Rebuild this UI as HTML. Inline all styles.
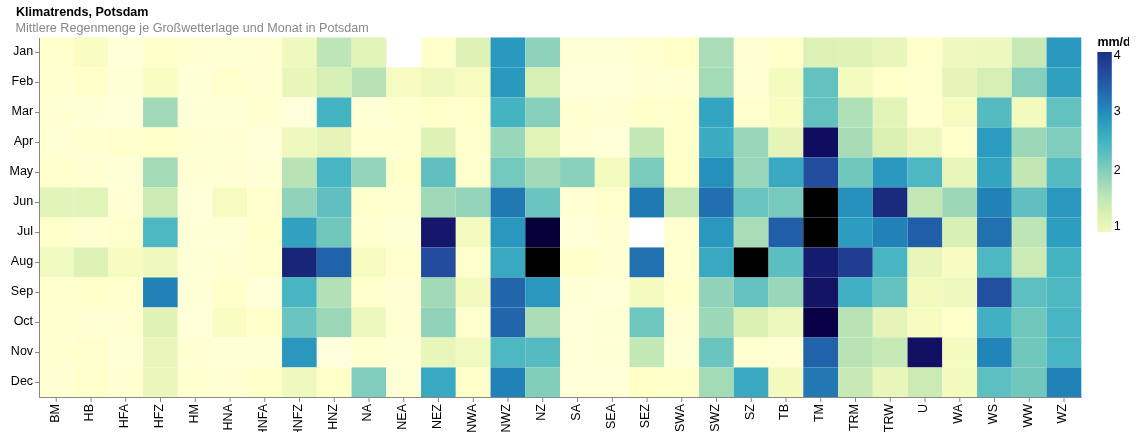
<!DOCTYPE html>
<html lang="de"><head><meta charset="utf-8"><title>Klimatrends, Potsdam</title>
<style>html,body{margin:0;padding:0;background:#fff;}body{width:1141px;height:442px;overflow:hidden;font-family:"Liberation Sans", sans-serif;}svg{display:block;}text{font-family:"Liberation Sans", sans-serif;}</style></head><body>
<svg width="1141" height="442" viewBox="0 0 1141 442">
<defs><linearGradient id="lg" x1="0" y1="1" x2="0" y2="0">
<stop offset="0.0" stop-color="#eff9bd"/>
<stop offset="0.1" stop-color="#dbf1b4"/>
<stop offset="0.2" stop-color="#bde5b5"/>
<stop offset="0.3" stop-color="#94d5b9"/>
<stop offset="0.4" stop-color="#69c5be"/>
<stop offset="0.5" stop-color="#45b4c2"/>
<stop offset="0.6" stop-color="#2c9ec0"/>
<stop offset="0.7" stop-color="#2182b8"/>
<stop offset="0.8" stop-color="#2163aa"/>
<stop offset="0.9" stop-color="#23479c"/>
<stop offset="1.0" stop-color="#1c3185"/>
</linearGradient><clipPath id="cp"><rect x="0" y="0" width="1141" height="432"/></clipPath></defs>
<text x="16" y="15.8" font-size="12.56" font-weight="bold" fill="#000">Klimatrends, Potsdam</text>
<text x="15.6" y="31.9" font-size="12.58" fill="#888">Mittlere Regenmenge je Großwetterlage und Monat in Potsdam</text>
<g>
<rect x="38.80" y="37.45" width="34.75" height="30.00" fill="#ffffcc"/>
<rect x="73.55" y="37.45" width="34.75" height="30.00" fill="#fafdc2"/>
<rect x="108.30" y="37.45" width="34.75" height="30.00" fill="#ffffd8"/>
<rect x="143.05" y="37.45" width="34.75" height="30.00" fill="#ffffc9"/>
<rect x="177.80" y="37.45" width="34.75" height="30.00" fill="#ffffd2"/>
<rect x="212.55" y="37.45" width="34.75" height="30.00" fill="#ffffd4"/>
<rect x="247.30" y="37.45" width="34.75" height="30.00" fill="#ffffd2"/>
<rect x="282.05" y="37.45" width="34.75" height="30.00" fill="#eff9bd"/>
<rect x="316.80" y="37.45" width="34.75" height="30.00" fill="#bde5b5"/>
<rect x="351.55" y="37.45" width="34.75" height="30.00" fill="#e2f4b7"/>
<rect x="421.05" y="37.45" width="34.75" height="30.00" fill="#ffffc9"/>
<rect x="455.80" y="37.45" width="34.75" height="30.00" fill="#def2b6"/>
<rect x="490.55" y="37.45" width="34.75" height="30.00" fill="#2a99bf"/>
<rect x="525.30" y="37.45" width="34.75" height="30.00" fill="#8dd2ba"/>
<rect x="560.05" y="37.45" width="34.75" height="30.00" fill="#ffffd5"/>
<rect x="594.80" y="37.45" width="34.75" height="30.00" fill="#ffffd5"/>
<rect x="629.55" y="37.45" width="34.75" height="30.00" fill="#ffffcf"/>
<rect x="664.30" y="37.45" width="34.75" height="30.00" fill="#ffffc6"/>
<rect x="699.05" y="37.45" width="34.75" height="30.00" fill="#a8ddb7"/>
<rect x="733.80" y="37.45" width="34.75" height="30.00" fill="#ffffd2"/>
<rect x="768.55" y="37.45" width="34.75" height="30.00" fill="#ffffc9"/>
<rect x="803.30" y="37.45" width="34.75" height="30.00" fill="#def2b6"/>
<rect x="838.05" y="37.45" width="34.75" height="30.00" fill="#e0f3b6"/>
<rect x="872.80" y="37.45" width="34.75" height="30.00" fill="#e8f6ba"/>
<rect x="907.55" y="37.45" width="34.75" height="30.00" fill="#ffffc9"/>
<rect x="942.30" y="37.45" width="34.75" height="30.00" fill="#eff9bd"/>
<rect x="977.05" y="37.45" width="34.75" height="30.00" fill="#ecf8bc"/>
<rect x="1011.80" y="37.45" width="34.75" height="30.00" fill="#c7e9b5"/>
<rect x="1046.55" y="37.45" width="34.75" height="30.00" fill="#2a99bf"/>
<rect x="38.80" y="67.45" width="34.75" height="30.00" fill="#ffffcf"/>
<rect x="73.55" y="67.45" width="34.75" height="30.00" fill="#ffffc9"/>
<rect x="108.30" y="67.45" width="34.75" height="30.00" fill="#ffffd5"/>
<rect x="143.05" y="67.45" width="34.75" height="30.00" fill="#f9fdc2"/>
<rect x="177.80" y="67.45" width="34.75" height="30.00" fill="#ffffd5"/>
<rect x="212.55" y="67.45" width="34.75" height="30.00" fill="#ffffcc"/>
<rect x="247.30" y="67.45" width="34.75" height="30.00" fill="#ffffd2"/>
<rect x="282.05" y="67.45" width="34.75" height="30.00" fill="#e8f6ba"/>
<rect x="316.80" y="67.45" width="34.75" height="30.00" fill="#d6efb4"/>
<rect x="351.55" y="67.45" width="34.75" height="30.00" fill="#b6e2b6"/>
<rect x="386.30" y="67.45" width="34.75" height="30.00" fill="#f6fcc0"/>
<rect x="421.05" y="67.45" width="34.75" height="30.00" fill="#eff9bd"/>
<rect x="455.80" y="67.45" width="34.75" height="30.00" fill="#f6fcc0"/>
<rect x="490.55" y="67.45" width="34.75" height="30.00" fill="#2a99bf"/>
<rect x="525.30" y="67.45" width="34.75" height="30.00" fill="#d6efb4"/>
<rect x="560.05" y="67.45" width="34.75" height="30.00" fill="#ffffd8"/>
<rect x="594.80" y="67.45" width="34.75" height="30.00" fill="#ffffd8"/>
<rect x="629.55" y="67.45" width="34.75" height="30.00" fill="#ffffd2"/>
<rect x="664.30" y="67.45" width="34.75" height="30.00" fill="#ffffd2"/>
<rect x="699.05" y="67.45" width="34.75" height="30.00" fill="#a4dbb7"/>
<rect x="733.80" y="67.45" width="34.75" height="30.00" fill="#ffffd2"/>
<rect x="768.55" y="67.45" width="34.75" height="30.00" fill="#f4fbbf"/>
<rect x="803.30" y="67.45" width="34.75" height="30.00" fill="#63c2bf"/>
<rect x="838.05" y="67.45" width="34.75" height="30.00" fill="#f4fbbf"/>
<rect x="872.80" y="67.45" width="34.75" height="30.00" fill="#ffffc9"/>
<rect x="907.55" y="67.45" width="34.75" height="30.00" fill="#ffffcc"/>
<rect x="942.30" y="67.45" width="34.75" height="30.00" fill="#e5f5b8"/>
<rect x="977.05" y="67.45" width="34.75" height="30.00" fill="#d6efb4"/>
<rect x="1011.80" y="67.45" width="34.75" height="30.00" fill="#86d0bb"/>
<rect x="1046.55" y="67.45" width="34.75" height="30.00" fill="#2fa0c0"/>
<rect x="38.80" y="97.45" width="34.75" height="30.00" fill="#ffffd2"/>
<rect x="73.55" y="97.45" width="34.75" height="30.00" fill="#ffffd5"/>
<rect x="108.30" y="97.45" width="34.75" height="30.00" fill="#ffffd8"/>
<rect x="143.05" y="97.45" width="34.75" height="30.00" fill="#a2dab8"/>
<rect x="177.80" y="97.45" width="34.75" height="30.00" fill="#ffffd5"/>
<rect x="212.55" y="97.45" width="34.75" height="30.00" fill="#ffffd6"/>
<rect x="247.30" y="97.45" width="34.75" height="30.00" fill="#ffffcf"/>
<rect x="282.05" y="97.45" width="34.75" height="30.00" fill="#ffffdb"/>
<rect x="316.80" y="97.45" width="34.75" height="30.00" fill="#45b4c2"/>
<rect x="351.55" y="97.45" width="34.75" height="30.00" fill="#ffffd5"/>
<rect x="386.30" y="97.45" width="34.75" height="30.00" fill="#ffffcf"/>
<rect x="421.05" y="97.45" width="34.75" height="30.00" fill="#ffffc9"/>
<rect x="455.80" y="97.45" width="34.75" height="30.00" fill="#ffffc9"/>
<rect x="490.55" y="97.45" width="34.75" height="30.00" fill="#45b4c2"/>
<rect x="525.30" y="97.45" width="34.75" height="30.00" fill="#86d0bb"/>
<rect x="560.05" y="97.45" width="34.75" height="30.00" fill="#ffffcf"/>
<rect x="594.80" y="97.45" width="34.75" height="30.00" fill="#ffffd2"/>
<rect x="629.55" y="97.45" width="34.75" height="30.00" fill="#ffffc9"/>
<rect x="664.30" y="97.45" width="34.75" height="30.00" fill="#ffffc9"/>
<rect x="699.05" y="97.45" width="34.75" height="30.00" fill="#33a4c1"/>
<rect x="733.80" y="97.45" width="34.75" height="30.00" fill="#ffffcc"/>
<rect x="768.55" y="97.45" width="34.75" height="30.00" fill="#f9fdc2"/>
<rect x="803.30" y="97.45" width="34.75" height="30.00" fill="#63c2bf"/>
<rect x="838.05" y="97.45" width="34.75" height="30.00" fill="#afe0b6"/>
<rect x="872.80" y="97.45" width="34.75" height="30.00" fill="#e2f4b7"/>
<rect x="907.55" y="97.45" width="34.75" height="30.00" fill="#ffffcf"/>
<rect x="942.30" y="97.45" width="34.75" height="30.00" fill="#f6fcc0"/>
<rect x="977.05" y="97.45" width="34.75" height="30.00" fill="#55bbc0"/>
<rect x="1011.80" y="97.45" width="34.75" height="30.00" fill="#f2fabe"/>
<rect x="1046.55" y="97.45" width="34.75" height="30.00" fill="#63c2bf"/>
<rect x="38.80" y="127.45" width="34.75" height="30.00" fill="#ffffd5"/>
<rect x="73.55" y="127.45" width="34.75" height="30.00" fill="#ffffcf"/>
<rect x="108.30" y="127.45" width="34.75" height="30.00" fill="#ffffcc"/>
<rect x="143.05" y="127.45" width="34.75" height="30.00" fill="#ffffc9"/>
<rect x="177.80" y="127.45" width="34.75" height="30.00" fill="#ffffd2"/>
<rect x="212.55" y="127.45" width="34.75" height="30.00" fill="#ffffd2"/>
<rect x="247.30" y="127.45" width="34.75" height="30.00" fill="#ffffd8"/>
<rect x="282.05" y="127.45" width="34.75" height="30.00" fill="#eff9bd"/>
<rect x="316.80" y="127.45" width="34.75" height="30.00" fill="#e5f5b8"/>
<rect x="351.55" y="127.45" width="34.75" height="30.00" fill="#ffffcf"/>
<rect x="386.30" y="127.45" width="34.75" height="30.00" fill="#ffffcf"/>
<rect x="421.05" y="127.45" width="34.75" height="30.00" fill="#def2b6"/>
<rect x="455.80" y="127.45" width="34.75" height="30.00" fill="#ffffcc"/>
<rect x="490.55" y="127.45" width="34.75" height="30.00" fill="#98d7b9"/>
<rect x="525.30" y="127.45" width="34.75" height="30.00" fill="#e2f4b7"/>
<rect x="560.05" y="127.45" width="34.75" height="30.00" fill="#ffffd2"/>
<rect x="594.80" y="127.45" width="34.75" height="30.00" fill="#ffffd8"/>
<rect x="629.55" y="127.45" width="34.75" height="30.00" fill="#c4e8b5"/>
<rect x="664.30" y="127.45" width="34.75" height="30.00" fill="#ffffc9"/>
<rect x="699.05" y="127.45" width="34.75" height="30.00" fill="#3babc1"/>
<rect x="733.80" y="127.45" width="34.75" height="30.00" fill="#98d7b9"/>
<rect x="768.55" y="127.45" width="34.75" height="30.00" fill="#e5f5b8"/>
<rect x="803.30" y="127.45" width="34.75" height="30.00" fill="#100c5f"/>
<rect x="838.05" y="127.45" width="34.75" height="30.00" fill="#a7dcb7"/>
<rect x="872.80" y="127.45" width="34.75" height="30.00" fill="#dbf1b4"/>
<rect x="907.55" y="127.45" width="34.75" height="30.00" fill="#eef8bc"/>
<rect x="942.30" y="127.45" width="34.75" height="30.00" fill="#ffffc9"/>
<rect x="977.05" y="127.45" width="34.75" height="30.00" fill="#2b9cbf"/>
<rect x="1011.80" y="127.45" width="34.75" height="30.00" fill="#9bd8b8"/>
<rect x="1046.55" y="127.45" width="34.75" height="30.00" fill="#7fcdbc"/>
<rect x="38.80" y="157.45" width="34.75" height="30.00" fill="#ffffcc"/>
<rect x="73.55" y="157.45" width="34.75" height="30.00" fill="#ffffd2"/>
<rect x="108.30" y="157.45" width="34.75" height="30.00" fill="#ffffd5"/>
<rect x="143.05" y="157.45" width="34.75" height="30.00" fill="#a4dbb7"/>
<rect x="177.80" y="157.45" width="34.75" height="30.00" fill="#ffffd2"/>
<rect x="212.55" y="157.45" width="34.75" height="30.00" fill="#ffffd2"/>
<rect x="247.30" y="157.45" width="34.75" height="30.00" fill="#ffffd5"/>
<rect x="282.05" y="157.45" width="34.75" height="30.00" fill="#b9e3b5"/>
<rect x="316.80" y="157.45" width="34.75" height="30.00" fill="#47b5c2"/>
<rect x="351.55" y="157.45" width="34.75" height="30.00" fill="#94d5b9"/>
<rect x="386.30" y="157.45" width="34.75" height="30.00" fill="#ffffc9"/>
<rect x="421.05" y="157.45" width="34.75" height="30.00" fill="#5fc0bf"/>
<rect x="455.80" y="157.45" width="34.75" height="30.00" fill="#ffffcc"/>
<rect x="490.55" y="157.45" width="34.75" height="30.00" fill="#73c9bd"/>
<rect x="525.30" y="157.45" width="34.75" height="30.00" fill="#a2dab8"/>
<rect x="560.05" y="157.45" width="34.75" height="30.00" fill="#89d1ba"/>
<rect x="594.80" y="157.45" width="34.75" height="30.00" fill="#f4fbbf"/>
<rect x="629.55" y="157.45" width="34.75" height="30.00" fill="#7acbbc"/>
<rect x="664.30" y="157.45" width="34.75" height="30.00" fill="#ffffc6"/>
<rect x="699.05" y="157.45" width="34.75" height="30.00" fill="#2690bc"/>
<rect x="733.80" y="157.45" width="34.75" height="30.00" fill="#98d7b9"/>
<rect x="768.55" y="157.45" width="34.75" height="30.00" fill="#39a9c1"/>
<rect x="803.30" y="157.45" width="34.75" height="30.00" fill="#234e9f"/>
<rect x="838.05" y="157.45" width="34.75" height="30.00" fill="#70c8bd"/>
<rect x="872.80" y="157.45" width="34.75" height="30.00" fill="#2997be"/>
<rect x="907.55" y="157.45" width="34.75" height="30.00" fill="#4db8c1"/>
<rect x="942.30" y="157.45" width="34.75" height="30.00" fill="#e8f6ba"/>
<rect x="977.05" y="157.45" width="34.75" height="30.00" fill="#34a5c1"/>
<rect x="1011.80" y="157.45" width="34.75" height="30.00" fill="#c2e7b5"/>
<rect x="1046.55" y="157.45" width="34.75" height="30.00" fill="#55bbc0"/>
<rect x="38.80" y="187.45" width="34.75" height="30.00" fill="#e2f4b7"/>
<rect x="73.55" y="187.45" width="34.75" height="30.00" fill="#e2f4b7"/>
<rect x="108.30" y="187.45" width="34.75" height="30.00" fill="#ffffd2"/>
<rect x="143.05" y="187.45" width="34.75" height="30.00" fill="#ccebb4"/>
<rect x="177.80" y="187.45" width="34.75" height="30.00" fill="#ffffd8"/>
<rect x="212.55" y="187.45" width="34.75" height="30.00" fill="#f6fcc0"/>
<rect x="247.30" y="187.45" width="34.75" height="30.00" fill="#ffffcc"/>
<rect x="282.05" y="187.45" width="34.75" height="30.00" fill="#90d3ba"/>
<rect x="316.80" y="187.45" width="34.75" height="30.00" fill="#5fc0bf"/>
<rect x="351.55" y="187.45" width="34.75" height="30.00" fill="#ffffcc"/>
<rect x="386.30" y="187.45" width="34.75" height="30.00" fill="#ffffcf"/>
<rect x="421.05" y="187.45" width="34.75" height="30.00" fill="#9fd9b8"/>
<rect x="455.80" y="187.45" width="34.75" height="30.00" fill="#94d5b9"/>
<rect x="490.55" y="187.45" width="34.75" height="30.00" fill="#2179b4"/>
<rect x="525.30" y="187.45" width="34.75" height="30.00" fill="#69c5be"/>
<rect x="560.05" y="187.45" width="34.75" height="30.00" fill="#ffffd2"/>
<rect x="594.80" y="187.45" width="34.75" height="30.00" fill="#ffffcc"/>
<rect x="629.55" y="187.45" width="34.75" height="30.00" fill="#2179b4"/>
<rect x="664.30" y="187.45" width="34.75" height="30.00" fill="#c4e8b5"/>
<rect x="699.05" y="187.45" width="34.75" height="30.00" fill="#216fb0"/>
<rect x="733.80" y="187.45" width="34.75" height="30.00" fill="#69c5be"/>
<rect x="768.55" y="187.45" width="34.75" height="30.00" fill="#77cabc"/>
<rect x="803.30" y="187.45" width="34.75" height="30.00" fill="#000000"/>
<rect x="838.05" y="187.45" width="34.75" height="30.00" fill="#2690bc"/>
<rect x="872.80" y="187.45" width="34.75" height="30.00" fill="#1a2a7d"/>
<rect x="907.55" y="187.45" width="34.75" height="30.00" fill="#c4e8b5"/>
<rect x="942.30" y="187.45" width="34.75" height="30.00" fill="#9bd8b8"/>
<rect x="977.05" y="187.45" width="34.75" height="30.00" fill="#2182b8"/>
<rect x="1011.80" y="187.45" width="34.75" height="30.00" fill="#5fc0bf"/>
<rect x="1046.55" y="187.45" width="34.75" height="30.00" fill="#2997be"/>
<rect x="38.80" y="217.45" width="34.75" height="30.00" fill="#ffffc9"/>
<rect x="73.55" y="217.45" width="34.75" height="30.00" fill="#ffffd2"/>
<rect x="108.30" y="217.45" width="34.75" height="30.00" fill="#ffffcc"/>
<rect x="143.05" y="217.45" width="34.75" height="30.00" fill="#4db8c1"/>
<rect x="177.80" y="217.45" width="34.75" height="30.00" fill="#ffffd5"/>
<rect x="212.55" y="217.45" width="34.75" height="30.00" fill="#ffffd5"/>
<rect x="247.30" y="217.45" width="34.75" height="30.00" fill="#ffffc9"/>
<rect x="282.05" y="217.45" width="34.75" height="30.00" fill="#30a2c0"/>
<rect x="316.80" y="217.45" width="34.75" height="30.00" fill="#70c8bd"/>
<rect x="351.55" y="217.45" width="34.75" height="30.00" fill="#ffffcf"/>
<rect x="386.30" y="217.45" width="34.75" height="30.00" fill="#ffffd5"/>
<rect x="421.05" y="217.45" width="34.75" height="30.00" fill="#14176a"/>
<rect x="455.80" y="217.45" width="34.75" height="30.00" fill="#f4fbbf"/>
<rect x="490.55" y="217.45" width="34.75" height="30.00" fill="#2997be"/>
<rect x="525.30" y="217.45" width="34.75" height="30.00" fill="#050038"/>
<rect x="560.05" y="217.45" width="34.75" height="30.00" fill="#ffffd8"/>
<rect x="594.80" y="217.45" width="34.75" height="30.00" fill="#ffffd2"/>
<rect x="664.30" y="217.45" width="34.75" height="30.00" fill="#ffffcf"/>
<rect x="699.05" y="217.45" width="34.75" height="30.00" fill="#2997be"/>
<rect x="733.80" y="217.45" width="34.75" height="30.00" fill="#a8ddb7"/>
<rect x="768.55" y="217.45" width="34.75" height="30.00" fill="#215ea8"/>
<rect x="803.30" y="217.45" width="34.75" height="30.00" fill="#000000"/>
<rect x="838.05" y="217.45" width="34.75" height="30.00" fill="#2b9cbf"/>
<rect x="872.80" y="217.45" width="34.75" height="30.00" fill="#2182b8"/>
<rect x="907.55" y="217.45" width="34.75" height="30.00" fill="#215ea8"/>
<rect x="942.30" y="217.45" width="34.75" height="30.00" fill="#d9f0b4"/>
<rect x="977.05" y="217.45" width="34.75" height="30.00" fill="#2170b0"/>
<rect x="1011.80" y="217.45" width="34.75" height="30.00" fill="#bde5b5"/>
<rect x="1046.55" y="217.45" width="34.75" height="30.00" fill="#2c9ec0"/>
<rect x="38.80" y="247.45" width="34.75" height="30.00" fill="#f0fabe"/>
<rect x="73.55" y="247.45" width="34.75" height="30.00" fill="#def2b6"/>
<rect x="108.30" y="247.45" width="34.75" height="30.00" fill="#f6fcc0"/>
<rect x="143.05" y="247.45" width="34.75" height="30.00" fill="#eff9bd"/>
<rect x="177.80" y="247.45" width="34.75" height="30.00" fill="#ffffd5"/>
<rect x="212.55" y="247.45" width="34.75" height="30.00" fill="#ffffd2"/>
<rect x="247.30" y="247.45" width="34.75" height="30.00" fill="#ffffcc"/>
<rect x="282.05" y="247.45" width="34.75" height="30.00" fill="#18267a"/>
<rect x="316.80" y="247.45" width="34.75" height="30.00" fill="#2163aa"/>
<rect x="351.55" y="247.45" width="34.75" height="30.00" fill="#f6fcc0"/>
<rect x="386.30" y="247.45" width="34.75" height="30.00" fill="#ffffcc"/>
<rect x="421.05" y="247.45" width="34.75" height="30.00" fill="#234b9e"/>
<rect x="455.80" y="247.45" width="34.75" height="30.00" fill="#ffffcc"/>
<rect x="490.55" y="247.45" width="34.75" height="30.00" fill="#39a9c1"/>
<rect x="525.30" y="247.45" width="34.75" height="30.00" fill="#000000"/>
<rect x="560.05" y="247.45" width="34.75" height="30.00" fill="#ffffc9"/>
<rect x="594.80" y="247.45" width="34.75" height="30.00" fill="#ffffd2"/>
<rect x="629.55" y="247.45" width="34.75" height="30.00" fill="#2170b0"/>
<rect x="664.30" y="247.45" width="34.75" height="30.00" fill="#ffffcf"/>
<rect x="699.05" y="247.45" width="34.75" height="30.00" fill="#39a9c1"/>
<rect x="733.80" y="247.45" width="34.75" height="30.00" fill="#000000"/>
<rect x="768.55" y="247.45" width="34.75" height="30.00" fill="#5bbec0"/>
<rect x="803.30" y="247.45" width="34.75" height="30.00" fill="#151b6e"/>
<rect x="838.05" y="247.45" width="34.75" height="30.00" fill="#203d92"/>
<rect x="872.80" y="247.45" width="34.75" height="30.00" fill="#47b5c2"/>
<rect x="907.55" y="247.45" width="34.75" height="30.00" fill="#e8f6ba"/>
<rect x="942.30" y="247.45" width="34.75" height="30.00" fill="#f7fcc1"/>
<rect x="977.05" y="247.45" width="34.75" height="30.00" fill="#4db8c1"/>
<rect x="1011.80" y="247.45" width="34.75" height="30.00" fill="#ccebb4"/>
<rect x="1046.55" y="247.45" width="34.75" height="30.00" fill="#45b4c2"/>
<rect x="38.80" y="277.45" width="34.75" height="30.00" fill="#ffffcc"/>
<rect x="73.55" y="277.45" width="34.75" height="30.00" fill="#ffffc9"/>
<rect x="108.30" y="277.45" width="34.75" height="30.00" fill="#ffffcc"/>
<rect x="143.05" y="277.45" width="34.75" height="30.00" fill="#2182b8"/>
<rect x="177.80" y="277.45" width="34.75" height="30.00" fill="#ffffd5"/>
<rect x="212.55" y="277.45" width="34.75" height="30.00" fill="#ffffc9"/>
<rect x="247.30" y="277.45" width="34.75" height="30.00" fill="#ffffda"/>
<rect x="282.05" y="277.45" width="34.75" height="30.00" fill="#47b5c2"/>
<rect x="316.80" y="277.45" width="34.75" height="30.00" fill="#b2e1b6"/>
<rect x="351.55" y="277.45" width="34.75" height="30.00" fill="#ffffcc"/>
<rect x="386.30" y="277.45" width="34.75" height="30.00" fill="#ffffd2"/>
<rect x="421.05" y="277.45" width="34.75" height="30.00" fill="#a2dab8"/>
<rect x="455.80" y="277.45" width="34.75" height="30.00" fill="#f2fabe"/>
<rect x="490.55" y="277.45" width="34.75" height="30.00" fill="#2166ab"/>
<rect x="525.30" y="277.45" width="34.75" height="30.00" fill="#2997be"/>
<rect x="560.05" y="277.45" width="34.75" height="30.00" fill="#ffffd5"/>
<rect x="594.80" y="277.45" width="34.75" height="30.00" fill="#ffffd8"/>
<rect x="629.55" y="277.45" width="34.75" height="30.00" fill="#f4fbbf"/>
<rect x="664.30" y="277.45" width="34.75" height="30.00" fill="#ffffc9"/>
<rect x="699.05" y="277.45" width="34.75" height="30.00" fill="#90d3ba"/>
<rect x="733.80" y="277.45" width="34.75" height="30.00" fill="#63c2bf"/>
<rect x="768.55" y="277.45" width="34.75" height="30.00" fill="#98d7b9"/>
<rect x="803.30" y="277.45" width="34.75" height="30.00" fill="#131466"/>
<rect x="838.05" y="277.45" width="34.75" height="30.00" fill="#41b0c2"/>
<rect x="872.80" y="277.45" width="34.75" height="30.00" fill="#63c2bf"/>
<rect x="907.55" y="277.45" width="34.75" height="30.00" fill="#f2fabe"/>
<rect x="942.30" y="277.45" width="34.75" height="30.00" fill="#eff9bd"/>
<rect x="977.05" y="277.45" width="34.75" height="30.00" fill="#2250a1"/>
<rect x="1011.80" y="277.45" width="34.75" height="30.00" fill="#5dbfbf"/>
<rect x="1046.55" y="277.45" width="34.75" height="30.00" fill="#4db8c1"/>
<rect x="38.80" y="307.45" width="34.75" height="30.00" fill="#ffffcf"/>
<rect x="73.55" y="307.45" width="34.75" height="30.00" fill="#ffffd2"/>
<rect x="108.30" y="307.45" width="34.75" height="30.00" fill="#ffffd2"/>
<rect x="143.05" y="307.45" width="34.75" height="30.00" fill="#e0f3b6"/>
<rect x="177.80" y="307.45" width="34.75" height="30.00" fill="#ffffd8"/>
<rect x="212.55" y="307.45" width="34.75" height="30.00" fill="#f9fdc2"/>
<rect x="247.30" y="307.45" width="34.75" height="30.00" fill="#ffffc9"/>
<rect x="282.05" y="307.45" width="34.75" height="30.00" fill="#69c5be"/>
<rect x="316.80" y="307.45" width="34.75" height="30.00" fill="#9bd8b8"/>
<rect x="351.55" y="307.45" width="34.75" height="30.00" fill="#ecf8bc"/>
<rect x="386.30" y="307.45" width="34.75" height="30.00" fill="#ffffd2"/>
<rect x="421.05" y="307.45" width="34.75" height="30.00" fill="#90d3ba"/>
<rect x="455.80" y="307.45" width="34.75" height="30.00" fill="#ffffcc"/>
<rect x="490.55" y="307.45" width="34.75" height="30.00" fill="#2166ab"/>
<rect x="525.30" y="307.45" width="34.75" height="30.00" fill="#abdeb7"/>
<rect x="560.05" y="307.45" width="34.75" height="30.00" fill="#ffffd8"/>
<rect x="594.80" y="307.45" width="34.75" height="30.00" fill="#ffffd5"/>
<rect x="629.55" y="307.45" width="34.75" height="30.00" fill="#6dc7be"/>
<rect x="664.30" y="307.45" width="34.75" height="30.00" fill="#ffffd2"/>
<rect x="699.05" y="307.45" width="34.75" height="30.00" fill="#9bd8b8"/>
<rect x="733.80" y="307.45" width="34.75" height="30.00" fill="#dbf1b4"/>
<rect x="768.55" y="307.45" width="34.75" height="30.00" fill="#ecf8bc"/>
<rect x="803.30" y="307.45" width="34.75" height="30.00" fill="#090048"/>
<rect x="838.05" y="307.45" width="34.75" height="30.00" fill="#b9e3b5"/>
<rect x="872.80" y="307.45" width="34.75" height="30.00" fill="#e5f5b8"/>
<rect x="907.55" y="307.45" width="34.75" height="30.00" fill="#f7fcc1"/>
<rect x="942.30" y="307.45" width="34.75" height="30.00" fill="#ffffc9"/>
<rect x="977.05" y="307.45" width="34.75" height="30.00" fill="#41b0c2"/>
<rect x="1011.80" y="307.45" width="34.75" height="30.00" fill="#70c8bd"/>
<rect x="1046.55" y="307.45" width="34.75" height="30.00" fill="#47b5c2"/>
<rect x="38.80" y="337.45" width="34.75" height="30.00" fill="#ffffcf"/>
<rect x="73.55" y="337.45" width="34.75" height="30.00" fill="#ffffcc"/>
<rect x="108.30" y="337.45" width="34.75" height="30.00" fill="#ffffd5"/>
<rect x="143.05" y="337.45" width="34.75" height="30.00" fill="#e8f6ba"/>
<rect x="177.80" y="337.45" width="34.75" height="30.00" fill="#ffffd2"/>
<rect x="212.55" y="337.45" width="34.75" height="30.00" fill="#ffffd5"/>
<rect x="247.30" y="337.45" width="34.75" height="30.00" fill="#ffffd5"/>
<rect x="282.05" y="337.45" width="34.75" height="30.00" fill="#2997be"/>
<rect x="316.80" y="337.45" width="34.75" height="30.00" fill="#ffffdb"/>
<rect x="351.55" y="337.45" width="34.75" height="30.00" fill="#ffffcf"/>
<rect x="386.30" y="337.45" width="34.75" height="30.00" fill="#ffffd5"/>
<rect x="421.05" y="337.45" width="34.75" height="30.00" fill="#e8f6ba"/>
<rect x="455.80" y="337.45" width="34.75" height="30.00" fill="#f0fabe"/>
<rect x="490.55" y="337.45" width="34.75" height="30.00" fill="#4db8c1"/>
<rect x="525.30" y="337.45" width="34.75" height="30.00" fill="#55bbc0"/>
<rect x="560.05" y="337.45" width="34.75" height="30.00" fill="#ffffd8"/>
<rect x="594.80" y="337.45" width="34.75" height="30.00" fill="#ffffd5"/>
<rect x="629.55" y="337.45" width="34.75" height="30.00" fill="#c4e8b5"/>
<rect x="664.30" y="337.45" width="34.75" height="30.00" fill="#ffffd5"/>
<rect x="699.05" y="337.45" width="34.75" height="30.00" fill="#69c5be"/>
<rect x="733.80" y="337.45" width="34.75" height="30.00" fill="#ffffcf"/>
<rect x="768.55" y="337.45" width="34.75" height="30.00" fill="#ffffd2"/>
<rect x="803.30" y="337.45" width="34.75" height="30.00" fill="#2163aa"/>
<rect x="838.05" y="337.45" width="34.75" height="30.00" fill="#b9e3b5"/>
<rect x="872.80" y="337.45" width="34.75" height="30.00" fill="#c7e9b5"/>
<rect x="907.55" y="337.45" width="34.75" height="30.00" fill="#111062"/>
<rect x="942.30" y="337.45" width="34.75" height="30.00" fill="#f4fbbf"/>
<rect x="977.05" y="337.45" width="34.75" height="30.00" fill="#2285b9"/>
<rect x="1011.80" y="337.45" width="34.75" height="30.00" fill="#70c8bd"/>
<rect x="1046.55" y="337.45" width="34.75" height="30.00" fill="#47b5c2"/>
<rect x="38.80" y="367.45" width="34.75" height="30.00" fill="#ffffd2"/>
<rect x="73.55" y="367.45" width="34.75" height="30.00" fill="#ffffcc"/>
<rect x="108.30" y="367.45" width="34.75" height="30.00" fill="#ffffd2"/>
<rect x="143.05" y="367.45" width="34.75" height="30.00" fill="#eaf7bb"/>
<rect x="177.80" y="367.45" width="34.75" height="30.00" fill="#ffffcf"/>
<rect x="212.55" y="367.45" width="34.75" height="30.00" fill="#ffffd2"/>
<rect x="247.30" y="367.45" width="34.75" height="30.00" fill="#ffffc9"/>
<rect x="282.05" y="367.45" width="34.75" height="30.00" fill="#eff9bd"/>
<rect x="316.80" y="367.45" width="34.75" height="30.00" fill="#ffffc9"/>
<rect x="351.55" y="367.45" width="34.75" height="30.00" fill="#7fcdbc"/>
<rect x="386.30" y="367.45" width="34.75" height="30.00" fill="#ffffd5"/>
<rect x="421.05" y="367.45" width="34.75" height="30.00" fill="#39a9c1"/>
<rect x="455.80" y="367.45" width="34.75" height="30.00" fill="#ffffc9"/>
<rect x="490.55" y="367.45" width="34.75" height="30.00" fill="#2182b8"/>
<rect x="525.30" y="367.45" width="34.75" height="30.00" fill="#81cebb"/>
<rect x="560.05" y="367.45" width="34.75" height="30.00" fill="#ffffd8"/>
<rect x="594.80" y="367.45" width="34.75" height="30.00" fill="#ffffd8"/>
<rect x="629.55" y="367.45" width="34.75" height="30.00" fill="#ffffc6"/>
<rect x="664.30" y="367.45" width="34.75" height="30.00" fill="#ffffc9"/>
<rect x="699.05" y="367.45" width="34.75" height="30.00" fill="#a4dbb7"/>
<rect x="733.80" y="367.45" width="34.75" height="30.00" fill="#39a9c1"/>
<rect x="768.55" y="367.45" width="34.75" height="30.00" fill="#f2fabe"/>
<rect x="803.30" y="367.45" width="34.75" height="30.00" fill="#2178b3"/>
<rect x="838.05" y="367.45" width="34.75" height="30.00" fill="#c7e9b5"/>
<rect x="872.80" y="367.45" width="34.75" height="30.00" fill="#e8f6ba"/>
<rect x="907.55" y="367.45" width="34.75" height="30.00" fill="#ccebb4"/>
<rect x="942.30" y="367.45" width="34.75" height="30.00" fill="#f2fabe"/>
<rect x="977.05" y="367.45" width="34.75" height="30.00" fill="#5dbfbf"/>
<rect x="1011.80" y="367.45" width="34.75" height="30.00" fill="#70c8bd"/>
<rect x="1046.55" y="367.45" width="34.75" height="30.00" fill="#2182b8"/>
</g>
<g stroke="#888" stroke-width="1" fill="none">
<line x1="39.5" y1="38" x2="39.5" y2="398"/>
<line x1="39" y1="397.5" x2="1081.80" y2="397.5"/>
<line x1="35.00" y1="52.50" x2="39.00" y2="52.50"/>
<line x1="35.00" y1="82.50" x2="39.00" y2="82.50"/>
<line x1="35.00" y1="112.50" x2="39.00" y2="112.50"/>
<line x1="35.00" y1="142.50" x2="39.00" y2="142.50"/>
<line x1="35.00" y1="172.50" x2="39.00" y2="172.50"/>
<line x1="35.00" y1="202.50" x2="39.00" y2="202.50"/>
<line x1="35.00" y1="232.50" x2="39.00" y2="232.50"/>
<line x1="35.00" y1="262.50" x2="39.00" y2="262.50"/>
<line x1="35.00" y1="292.50" x2="39.00" y2="292.50"/>
<line x1="35.00" y1="322.50" x2="39.00" y2="322.50"/>
<line x1="35.00" y1="352.50" x2="39.00" y2="352.50"/>
<line x1="35.00" y1="382.50" x2="39.00" y2="382.50"/>
<line x1="56.27" y1="398.00" x2="56.27" y2="402.00"/>
<line x1="91.03" y1="398.00" x2="91.03" y2="402.00"/>
<line x1="125.78" y1="398.00" x2="125.78" y2="402.00"/>
<line x1="160.53" y1="398.00" x2="160.53" y2="402.00"/>
<line x1="195.28" y1="398.00" x2="195.28" y2="402.00"/>
<line x1="230.03" y1="398.00" x2="230.03" y2="402.00"/>
<line x1="264.77" y1="398.00" x2="264.77" y2="402.00"/>
<line x1="299.52" y1="398.00" x2="299.52" y2="402.00"/>
<line x1="334.27" y1="398.00" x2="334.27" y2="402.00"/>
<line x1="369.02" y1="398.00" x2="369.02" y2="402.00"/>
<line x1="403.77" y1="398.00" x2="403.77" y2="402.00"/>
<line x1="438.52" y1="398.00" x2="438.52" y2="402.00"/>
<line x1="473.27" y1="398.00" x2="473.27" y2="402.00"/>
<line x1="508.02" y1="398.00" x2="508.02" y2="402.00"/>
<line x1="542.77" y1="398.00" x2="542.77" y2="402.00"/>
<line x1="577.52" y1="398.00" x2="577.52" y2="402.00"/>
<line x1="612.27" y1="398.00" x2="612.27" y2="402.00"/>
<line x1="647.02" y1="398.00" x2="647.02" y2="402.00"/>
<line x1="681.77" y1="398.00" x2="681.77" y2="402.00"/>
<line x1="716.52" y1="398.00" x2="716.52" y2="402.00"/>
<line x1="751.27" y1="398.00" x2="751.27" y2="402.00"/>
<line x1="786.02" y1="398.00" x2="786.02" y2="402.00"/>
<line x1="820.77" y1="398.00" x2="820.77" y2="402.00"/>
<line x1="855.52" y1="398.00" x2="855.52" y2="402.00"/>
<line x1="890.27" y1="398.00" x2="890.27" y2="402.00"/>
<line x1="925.02" y1="398.00" x2="925.02" y2="402.00"/>
<line x1="959.77" y1="398.00" x2="959.77" y2="402.00"/>
<line x1="994.52" y1="398.00" x2="994.52" y2="402.00"/>
<line x1="1029.28" y1="398.00" x2="1029.28" y2="402.00"/>
<line x1="1064.03" y1="398.00" x2="1064.03" y2="402.00"/>
</g>
<g font-size="12.5" fill="#000" text-anchor="end">
<text x="33.10" y="54.90">Jan</text>
<text x="33.10" y="84.90">Feb</text>
<text x="33.10" y="114.90">Mar</text>
<text x="33.10" y="144.90">Apr</text>
<text x="33.10" y="174.90">May</text>
<text x="33.10" y="204.90">Jun</text>
<text x="33.10" y="234.90">Jul</text>
<text x="33.10" y="264.90">Aug</text>
<text x="33.10" y="294.90">Sep</text>
<text x="33.10" y="324.90">Oct</text>
<text x="33.10" y="354.90">Nov</text>
<text x="33.10" y="384.90">Dec</text>
</g>
<g font-size="12.5" fill="#000" text-anchor="end" clip-path="url(#cp)">
<text transform="translate(56.27,404.00) rotate(-90)" x="0" y="2.4">BM</text>
<text transform="translate(91.03,404.00) rotate(-90)" x="0" y="2.4">HB</text>
<text transform="translate(125.78,404.00) rotate(-90)" x="0" y="2.4">HFA</text>
<text transform="translate(160.53,404.00) rotate(-90)" x="0" y="2.4">HFZ</text>
<text transform="translate(195.28,404.00) rotate(-90)" x="0" y="2.4">HM</text>
<text transform="translate(230.03,404.00) rotate(-90)" x="0" y="2.4">HNA</text>
<text transform="translate(264.77,404.00) rotate(-90)" x="0" y="2.4">HNFA</text>
<text transform="translate(299.52,404.00) rotate(-90)" x="0" y="2.4">HNFZ</text>
<text transform="translate(334.27,404.00) rotate(-90)" x="0" y="2.4">HNZ</text>
<text transform="translate(369.02,404.00) rotate(-90)" x="0" y="2.4">NA</text>
<text transform="translate(403.77,404.00) rotate(-90)" x="0" y="2.4">NEA</text>
<text transform="translate(438.52,404.00) rotate(-90)" x="0" y="2.4">NEZ</text>
<text transform="translate(473.27,404.00) rotate(-90)" x="0" y="2.4">NWA</text>
<text transform="translate(508.02,404.00) rotate(-90)" x="0" y="2.4">NWZ</text>
<text transform="translate(542.77,404.00) rotate(-90)" x="0" y="2.4">NZ</text>
<text transform="translate(577.52,404.00) rotate(-90)" x="0" y="2.4">SA</text>
<text transform="translate(612.27,404.00) rotate(-90)" x="0" y="2.4">SEA</text>
<text transform="translate(647.02,404.00) rotate(-90)" x="0" y="2.4">SEZ</text>
<text transform="translate(681.77,404.00) rotate(-90)" x="0" y="2.4">SWA</text>
<text transform="translate(716.52,404.00) rotate(-90)" x="0" y="2.4">SWZ</text>
<text transform="translate(751.27,404.00) rotate(-90)" x="0" y="2.4">SZ</text>
<text transform="translate(786.02,404.00) rotate(-90)" x="0" y="2.4">TB</text>
<text transform="translate(820.77,404.00) rotate(-90)" x="0" y="2.4">TM</text>
<text transform="translate(855.52,404.00) rotate(-90)" x="0" y="2.4">TRM</text>
<text transform="translate(890.27,404.00) rotate(-90)" x="0" y="2.4">TRW</text>
<text transform="translate(925.02,404.00) rotate(-90)" x="0" y="2.4">U</text>
<text transform="translate(959.77,404.00) rotate(-90)" x="0" y="2.4">WA</text>
<text transform="translate(994.52,404.00) rotate(-90)" x="0" y="2.4">WS</text>
<text transform="translate(1029.28,404.00) rotate(-90)" x="0" y="2.4">WW</text>
<text transform="translate(1064.03,404.00) rotate(-90)" x="0" y="2.4">WZ</text>
</g>
<clipPath id="cq"><rect x="0" y="0" width="1129" height="432"/></clipPath>
<text x="1097.4" y="45.7" font-size="12.5" font-weight="bold" fill="#000" clip-path="url(#cq)">mm/d</text>
<rect x="1097.4" y="52" width="14.4" height="180" fill="url(#lg)"/>
<g font-size="12.5" fill="#000">
<text x="1113.8" y="229.9">1</text>
<text x="1113.8" y="174.0">2</text>
<text x="1113.8" y="114.9">3</text>
<text x="1113.8" y="58.7">4</text>
</g>
</svg></body></html>
